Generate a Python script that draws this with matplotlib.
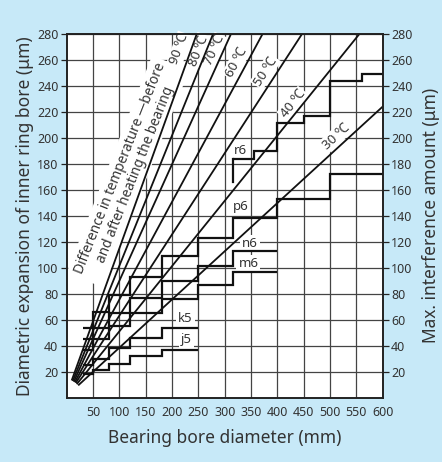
import numpy as np
import matplotlib
matplotlib.use('Agg')
import matplotlib.pyplot as plt

plt.rcParams['font.family'] = ['Noto Sans', 'DejaVu Sans']

# temperature difference lines, end points (mm, um)
temps = [90, 80, 70, 60, 50, 40, 30]
line_x0 = [10, 12, 14, 16, 18, 20, 23]
line_y0 = [14, 13.5, 13, 12.5, 12, 11, 10]
line_x1 = [247, 278, 312, 372, 447, 556, 600]
line_y1 = [280, 280, 280, 280, 280, 280, 224]
temp_label_x = [214, 250, 281, 322, 377, 430, 511]
temp_label_y = [268, 267, 267, 258, 251, 226, 201]

# max. interference per shaft tolerance class (stepped by bore range)
edges_5 = [30, 50, 80, 120, 180, 250]
j5 = [18, 21, 26, 32, 37]
k5 = [25, 30, 38, 46, 54]
edges_6 = [30, 50, 80, 120, 180, 250, 315, 400]
m6 = [37, 45, 55, 65, 76, 87, 97]
n6 = [45, 54, 65, 77, 90, 101, 113]
edges_p6 = [30, 50, 80, 120, 180, 250, 315, 400, 500, 600]
p6 = [54, 66, 79, 93, 109, 123, 138, 153, 172]
edges_r6 = [315, 355, 400, 450, 500, 560, 600]
r6 = [184, 190, 211, 217, 244, 249]
r6_start = 166

tol_names = ['j5', 'k5', 'm6', 'n6', 'p6', 'r6']
tol_label_x = [227, 225, 345, 348, 330, 330]
tol_label_y = [45, 61, 103, 119, 147, 190]

x_ticks = list(range(50, 601, 50))
y_ticks = list(range(20, 281, 20))

BG = '#c7e9f8'
TXT = '#333333'

fig = plt.figure(figsize=(4.42, 4.62), dpi=100, facecolor=BG)
ax = fig.add_axes([0.151, 0.139, 0.715, 0.788])
ax.set_facecolor('white')
ax.set_xlim(0, 600)
ax.set_ylim(0, 280)
ax.set_xticks(x_ticks)
ax.set_yticks(y_ticks)
ax.set_axisbelow(True)
ax.grid(True, color='#444444', lw=0.9)
for s in ax.spines.values():
    s.set_linewidth(1.2)
    s.set_color('#222222')
ax.tick_params(axis='x', length=0, pad=6, labelsize=9, labelcolor=TXT)
ax.tick_params(axis='y', length=4.5, width=0.9, pad=1.5, labelsize=9, labelcolor=TXT, color='#222222')

ax2 = ax.twinx()
ax2.set_ylim(0, 280)
ax2.set_yticks(y_ticks)
ax2.tick_params(axis='y', length=4.5, width=0.9, pad=1.5, labelsize=9, labelcolor=TXT, color='#222222')
for s in ax2.spines.values():
    s.set_linewidth(1.2)
    s.set_color('#222222')

ax.set_xlabel('Bearing bore diameter (mm)', fontsize=12.5, color=TXT, labelpad=7)
ax.set_ylabel('Diametric expansion of inner ring bore (\u03bcm)', fontsize=12.5, color=TXT, labelpad=2)
ax2.set_ylabel('Max. interference amount (\u03bcm)', fontsize=12.5, color=TXT, labelpad=7)

# temperature lines + labels
for t, x0, y0, x1, y1, lx, ly in zip(temps, line_x0, line_y0, line_x1, line_y1,
                                      temp_label_x, temp_label_y):
    ax.plot([x0, x1], [y0, y1], color='#111111', lw=1.3, zorder=3)
    p0 = ax.transData.transform((x0, y0))
    p1 = ax.transData.transform((x1, y1))
    ang = np.degrees(np.arctan2(p1[1] - p0[1], p1[0] - p0[0]))
    ax.text(lx, ly, f'{t} \u2103', rotation=ang, rotation_mode='anchor',
            ha='center', va='center', fontsize=9.5, color=TXT, zorder=2.5,
            bbox=dict(boxstyle='square,pad=0.1', fc='white', ec='none'))

# tolerance class steps
step_kw = dict(color='#111111', lw=1.6, baseline=None, zorder=3)
ax.stairs(j5, edges_5, **step_kw)
ax.stairs(k5, edges_5, **step_kw)
ax.stairs(m6, edges_6, **step_kw)
ax.stairs(n6, edges_6, **step_kw)
ax.stairs(p6, edges_p6, **step_kw)
ax.stairs(r6, edges_r6, **step_kw)
ax.plot([edges_r6[0], edges_r6[0]], [r6_start, r6[0]], color='#111111', lw=1.6, zorder=3)

for name, lx, ly in zip(tol_names, tol_label_x, tol_label_y):
    ax.text(lx, ly, name, ha='center', va='center', fontsize=9.5, color=TXT, zorder=2.5,
            bbox=dict(boxstyle='square,pad=0.15', fc='white', ec='none'))

ax.text(116, 174, 'Difference in temperature \u2014before\nand after heating the bearing',
        rotation=68.5, rotation_mode='anchor', ha='center', va='center',
        multialignment='center', fontsize=9.8, color=TXT, linespacing=1.15, zorder=1.5,
        bbox=dict(boxstyle='square,pad=0.3', fc='white', ec='none'))

fig.savefig('out.png', dpi=100, facecolor=BG)
